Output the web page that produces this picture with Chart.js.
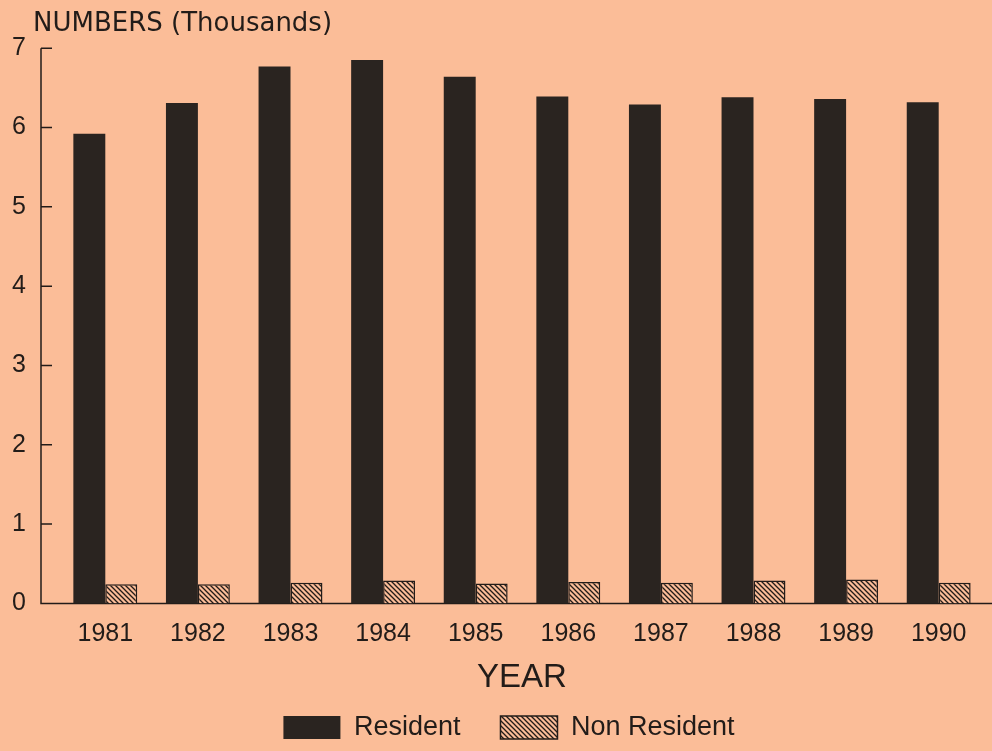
<!DOCTYPE html>
<html>
<head>
<meta charset="utf-8">
<title>Resident and Non Resident numbers 1981-1990</title>
<script src="https://cdn.jsdelivr.net/npm/chart.js"></script>
<style>
  body { margin: 0; background: #fbbd98; }
  canvas { display: block; }
</style>
</head>
<body>
<canvas id="mychart" width="992" height="751"></canvas>
<script>
// values (thousands)
const years = ["1981", "1982", "1983", "1984", "1985", "1986", "1987", "1988", "1989", "1990"];
const resident = [5.92, 6.31, 6.77, 6.85, 6.64, 6.39, 6.29, 6.38, 6.36, 6.32];
const nonResident = [0.24, 0.24, 0.26, 0.29, 0.25, 0.27, 0.26, 0.29, 0.30, 0.26];
const yMin = 0, yMax = 7, yStep = 1;

const paper = "#fbbd98";
const ink = "#221c19";

// diagonal hatch for the non resident bars
function makeHatch() {
  const c = document.createElement("canvas");
  c.width = 5;
  c.height = 5;
  const g = c.getContext("2d");
  g.fillStyle = paper;
  g.fillRect(0, 0, 5, 5);
  g.strokeStyle = ink;
  g.lineWidth = 1.3;
  g.beginPath();
  g.moveTo(-1, -1); g.lineTo(6, 6);
  g.moveTo(-1, 4); g.lineTo(1, 6);
  g.moveTo(4, -1); g.lineTo(6, 1);
  g.stroke();
  return g.createPattern(c, "repeat");
}

// axis lines drawn like the original: detached L with inward ticks
const axisLines = {
  id: "axisLines",
  beforeDatasetsDraw(chart) {
    const ctx = chart.ctx;
    const y = chart.scales.y;
    const ax = chart.chartArea.left - 18;
    ctx.save();
    ctx.strokeStyle = ink;
    ctx.lineWidth = 1.5;
    ctx.beginPath();
    ctx.moveTo(ax, y.getPixelForValue(yMax));
    ctx.lineTo(ax, y.getPixelForValue(yMin));
    ctx.lineTo(chart.width, y.getPixelForValue(yMin));
    for (let v = yMin + yStep; v <= yMax; v += yStep) {
      const py = y.getPixelForValue(v);
      ctx.moveTo(ax, py);
      ctx.lineTo(ax + 11, py);
    }
    ctx.stroke();
    ctx.restore();
  }
};

const ctx = document.getElementById("mychart").getContext("2d");

const data = {
  labels: years,
  datasets: [
    {
      label: "Resident",
      data: resident,
      backgroundColor: "#2a2420",
      borderColor: ink,
      borderWidth: 0
    },
    {
      label: "Non Resident",
      data: nonResident,
      backgroundColor: makeHatch(),
      borderColor: ink,
      borderWidth: 1.5
    }
  ]
};

const config = {
  type: "bar",
  data: data,
  plugins: [axisLines],
  options: {
    responsive: false,
    animation: false,
    layout: { padding: { top: 9, left: 33, right: 7, bottom: 0 } },
    datasets: {
      bar: { barPercentage: 1.0, categoryPercentage: 0.69 }
    },
    plugins: {
      title: {
        display: true,
        text: "NUMBERS (Thousands)",
        align: "start",
        color: ink,
        font: { family: "DejaVu Sans", size: 26, weight: "normal", lineHeight: 1.2 },
        padding: { top: 0, bottom: 8 }
      },
      legend: {
        position: "bottom",
        labels: {
          color: ink,
          boxWidth: 57,
          boxHeight: 23,
          padding: 40,
          font: { family: "Liberation Sans", size: 27 }
        }
      },
      tooltip: { enabled: false }
    },
    scales: {
      x: {
        grid: { display: false, drawTicks: false },
        border: { display: false },
        ticks: {
          color: ink,
          padding: 16,
          font: { family: "Liberation Sans", size: 25 }
        },
        title: {
          display: true,
          text: "YEAR",
          color: ink,
          font: { family: "Liberation Sans", size: 33, lineHeight: 1.2 },
          padding: { top: -7, bottom: -24 }
        }
      },
      y: {
        min: yMin,
        max: yMax,
        afterFit: s => { s.width = 26; },
        grid: { display: false, drawTicks: false },
        border: { display: false },
        ticks: {
          stepSize: yStep,
          color: ink,
          mirror: true,
          padding: -47,
          font: { family: "Liberation Sans", size: 25 }
        }
      }
    }
  }
};

const mychart = new Chart(ctx, config);
</script>
</body>
</html>
